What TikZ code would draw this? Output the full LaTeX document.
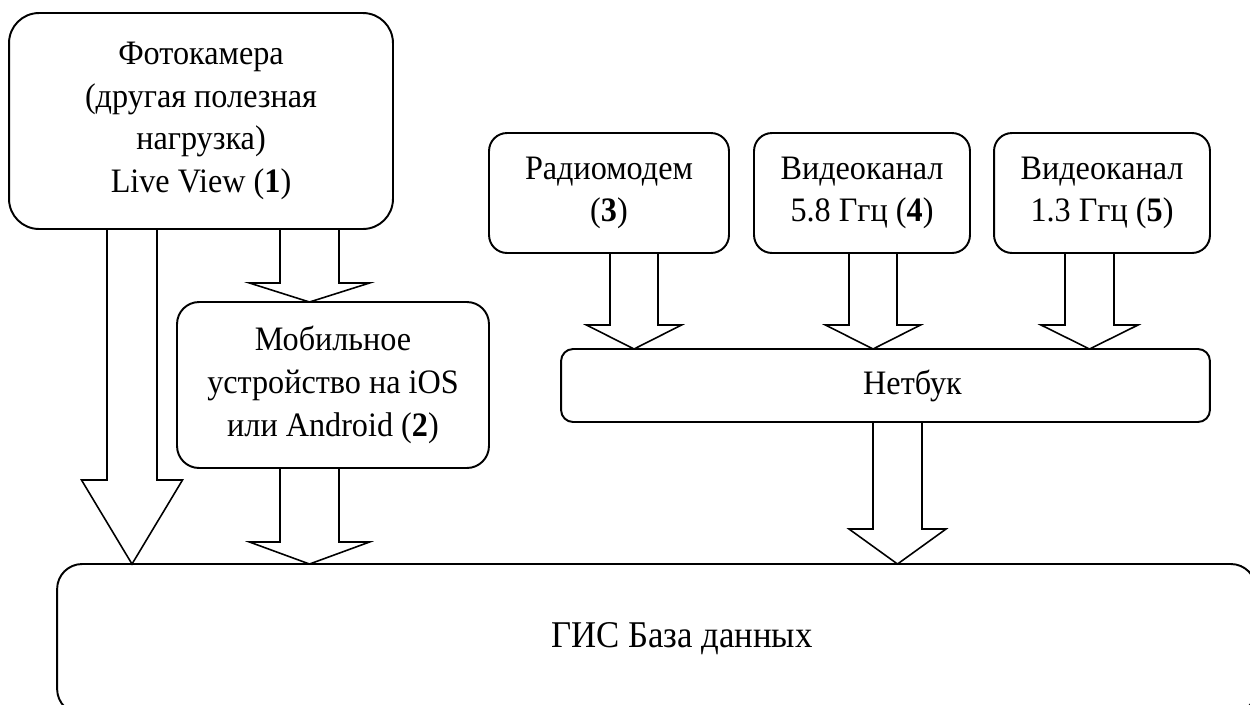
\documentclass[tikz,border=0pt]{standalone}
\usepackage{fontspec}
\setmainfont{Liberation Serif}[FakeStretch=0.94]
\newfontfamily\gisfont{Liberation Serif}[FakeStretch=0.92]
\usetikzlibrary{calc}
\tikzset{
  box/.style={draw, line width=1.1pt, inner sep=0pt, outer sep=0pt, align=center,
    font=\fontsize{19.5}{24.3}\selectfont},
  blk/.style={draw, line width=0.9pt, line join=miter}
}
\newcommand\blkarrow[6]{%
  \coordinate (bx) at (#3,0);
  \draw[blk] ($(bx |- #1.south)+(-#4,0)$) -- ($(bx |- #2.north)+(-#4,-#6)$)
    -- ($(bx |- #2.north)+(-#5,-#6)$) -- (bx |- #2.north)
    -- ($(bx |- #2.north)+(#5,-#6)$) -- ($(bx |- #2.north)+(#4,-#6)$)
    -- ($(bx |- #1.south)+(#4,0)$);
}
\begin{document}
\begin{tikzpicture}[x=0.02cm, y=-0.02cm]
\useasboundingbox (0,0) rectangle (1250,704);
\fill[white] (0,0) rectangle (1250,704);

\node[box, minimum width=7.68cm, minimum height=4.32cm, rounded corners=0.6cm] (cam) at (201,121)
  {Фотокамера\\(другая полезная\\нагрузка)\\Live View (\textbf{1})};
\node[box, minimum width=6.24cm, minimum height=3.32cm, rounded corners=0.44cm] (mob) at (333,385)
  {Мобильное\\устройство на iOS\\или Android (\textbf{2})};
\node[box, minimum width=4.8cm, minimum height=2.4cm, rounded corners=0.36cm] (rad) at (609,193)
  {Радиомодем\\(\textbf{3})};
\node[box, minimum width=4.32cm, minimum height=2.4cm, rounded corners=0.36cm] (v58) at (862,193)
  {Видеоканал\\5.8 Ггц (\textbf{4})};
\node[box, minimum width=4.32cm, minimum height=2.4cm, rounded corners=0.36cm] (v13) at (1102,193)
  {Видеоканал\\1.3 Ггц (\textbf{5})};
\node[box, minimum width=12.98cm, minimum height=1.46cm, rounded corners=0.24cm] (net) at (885.5,385.5)
  {\hspace*{1.08cm}Нетбук};
\node[box, minimum width=23.98cm, minimum height=3.0cm, rounded corners=0.5cm,
  font=\gisfont\fontsize{21.5}{26}\selectfont] (gis) at (656.5,639)
  {\hspace*{1.02cm}ГИС База данных};

\blkarrow{cam}{gis}{132}{25}{50.5}{84}
\blkarrow{cam}{mob}{309.5}{29.5}{60}{19}
\blkarrow{mob}{gis}{309.5}{29.5}{60}{22}
\blkarrow{rad}{net}{634}{24}{47.5}{24}
\blkarrow{v58}{net}{873}{24}{47.5}{24}
\blkarrow{v13}{net}{1089.5}{24.5}{48.5}{24}
\blkarrow{net}{gis}{897.5}{24.5}{48.5}{35}
\end{tikzpicture}
\end{document}
